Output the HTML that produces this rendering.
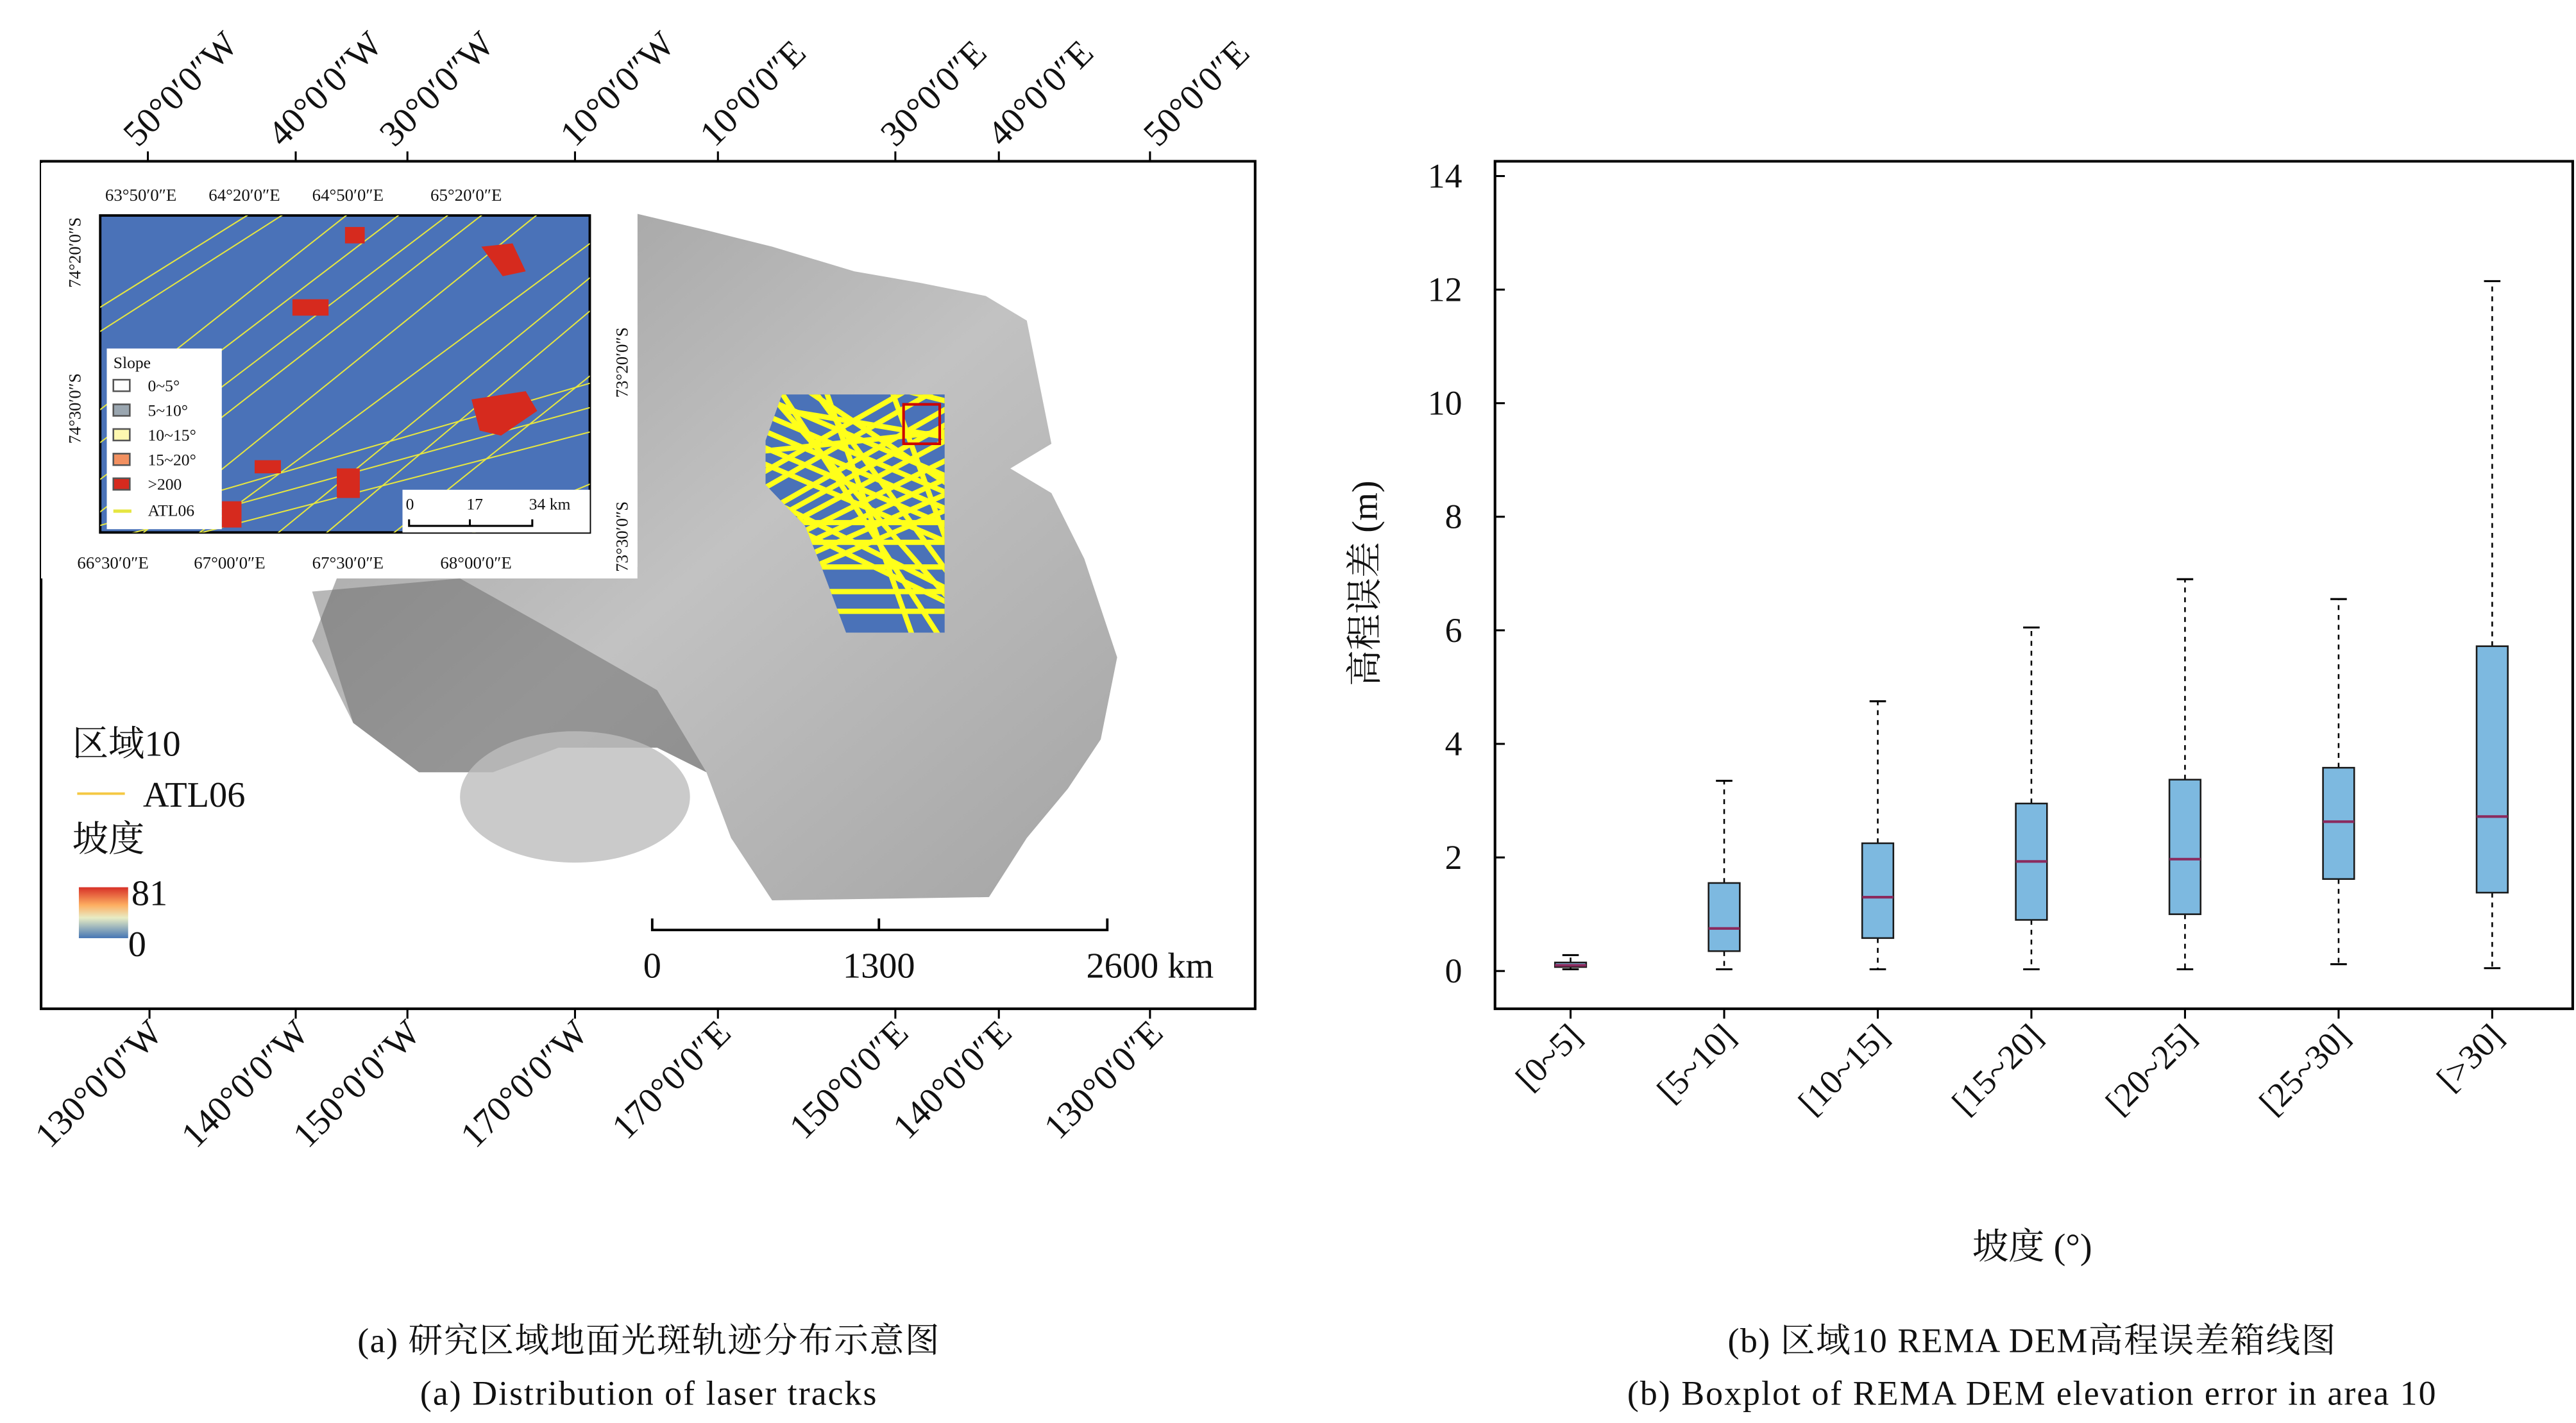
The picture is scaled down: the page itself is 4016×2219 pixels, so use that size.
<!DOCTYPE html>
<html><head><meta charset="utf-8"><style>
html,body{margin:0;padding:0;background:#fff}
svg{display:block}
text{font-family:"Liberation Serif","Noto Serif CJK SC",serif;fill:#111}
</style></head><body>
<svg width="4016" height="2219" viewBox="0 0 1568 866" xmlns="http://www.w3.org/2000/svg">
<defs>
<linearGradient id="cbar" x1="0" y1="0" x2="0" y2="1"><stop offset="0" stop-color="#d73027"/><stop offset="0.35" stop-color="#fdae61"/><stop offset="0.6" stop-color="#e8ecc4"/><stop offset="1" stop-color="#4575b4"/></linearGradient>
<linearGradient id="land" x1="0" y1="0" x2="1" y2="1"><stop offset="0" stop-color="#9a9a9a"/><stop offset="0.5" stop-color="#c2c2c2"/><stop offset="1" stop-color="#a4a4a4"/></linearGradient>
<clipPath id="insetclip"><rect x="61" y="131" width="298" height="193"/></clipPath>
<clipPath id="regclip"><polygon points="476,240 575,240 575,385 515,385 500,345 490,320 466,295 466,268"/></clipPath>
</defs>

<g>
<rect x="25" y="98" width="739" height="516" fill="#fff" stroke="#000" stroke-width="1.6"/>
<polygon fill="url(#land)" points="388,130 430,140 470,150 520,165 560,172 600,180 625,195 632,230 640,270 615,285 640,300 660,340 680,400 670,450 650,480 625,510 602,546 470,548 445,510 430,470 400,455 340,455 300,470 255,470 215,440 190,390 205,352 360,352 388,345"/>
<polygon fill="#5f5f5f" opacity="0.45" points="190,360 280,352 330,380 400,420 430,470 400,455 340,455 300,470 255,470 215,440"/>
<ellipse cx="350" cy="485" rx="70" ry="40" fill="#bdbdbd" opacity="0.8"/>
<polygon fill="#4a72b8" points="476,240 575,240 575,385 515,385 500,345 490,320 466,295 466,268"/>
<g clip-path="url(#regclip)" stroke="#ffff1a" stroke-width="3.2">
<line x1="460" y1="300" x2="600" y2="220"/><line x1="460" y1="315" x2="600" y2="235"/><line x1="460" y1="330" x2="600" y2="255"/>
<line x1="460" y1="345" x2="600" y2="280"/><line x1="460" y1="360" x2="600" y2="300"/><line x1="460" y1="280" x2="600" y2="340"/>
<line x1="460" y1="260" x2="600" y2="320"/><line x1="460" y1="300" x2="600" y2="370"/><line x1="460" y1="240" x2="600" y2="300"/>
<line x1="460" y1="230" x2="600" y2="390"/><line x1="470" y1="230" x2="580" y2="400"/><line x1="500" y1="230" x2="560" y2="400"/>
<line x1="480" y1="250" x2="600" y2="270"/><line x1="460" y1="360" x2="600" y2="360"/><line x1="480" y1="230" x2="600" y2="310"/>
<line x1="520" y1="230" x2="600" y2="250"/><line x1="470" y1="330" x2="600" y2="330"/><line x1="460" y1="275" x2="600" y2="260"/>
<line x1="460" y1="290" x2="600" y2="210"/><line x1="460" y1="322" x2="600" y2="245"/><line x1="460" y1="338" x2="600" y2="268"/>
<line x1="460" y1="352" x2="600" y2="290"/><line x1="460" y1="270" x2="600" y2="330"/><line x1="460" y1="310" x2="600" y2="378"/>
<line x1="460" y1="250" x2="600" y2="310"/><line x1="460" y1="345" x2="600" y2="345"/><line x1="460" y1="372" x2="600" y2="372"/>
<line x1="540" y1="230" x2="600" y2="395"/><line x1="490" y1="230" x2="600" y2="380"/><line x1="460" y1="318" x2="600" y2="318"/>
</g>
<rect x="550" y="246" width="22" height="24" fill="none" stroke="#c00" stroke-width="1.6"/>

<g>
<rect x="25" y="99" width="363" height="253" fill="#fff"/>
<rect x="61" y="131" width="298" height="193" fill="#4a72b8" stroke="#000" stroke-width="1.5"/>
<g clip-path="url(#insetclip)" stroke="#e6e640" stroke-width="0.8">
<line x1="40" y1="200" x2="200" y2="100"/><line x1="40" y1="215" x2="220" y2="100"/><line x1="50" y1="300" x2="300" y2="110"/>
<line x1="50" y1="320" x2="320" y2="110"/><line x1="80" y1="330" x2="340" y2="120"/><line x1="100" y1="340" x2="370" y2="140"/>
<line x1="150" y1="340" x2="370" y2="160"/><line x1="180" y1="340" x2="370" y2="180"/><line x1="220" y1="340" x2="370" y2="220"/>
<line x1="60" y1="320" x2="370" y2="230"/><line x1="60" y1="330" x2="370" y2="245"/><line x1="100" y1="330" x2="370" y2="260"/>
<line x1="250" y1="340" x2="370" y2="290"/><line x1="60" y1="250" x2="250" y2="100"/><line x1="60" y1="270" x2="270" y2="110"/>
</g>
<g fill="#d62a1e"><polygon points="287,243 320,238 327,250 305,265 292,262"/><polygon points="293,150 312,148 320,165 306,168"/><rect x="178" y="182" width="22" height="10"/><rect x="205" y="285" width="14" height="18"/><rect x="155" y="280" width="16" height="8"/><rect x="210" y="138" width="12" height="10"/><rect x="135" y="305" width="12" height="16"/></g>
<rect x="65" y="212" width="70" height="110" fill="#fff"/>
<text x="69" y="224" font-size="10">Slope</text>
<g font-size="10"><rect x="69" y="231" width="10" height="7" fill="#fff" stroke="#555"/><text x="90" y="238">0~5°</text>
<rect x="69" y="246" width="10" height="7" fill="#9aa6b0" stroke="#555"/><text x="90" y="253">5~10°</text>
<rect x="69" y="261" width="10" height="7" fill="#fdf7b0" stroke="#555"/><text x="90" y="268">10~15°</text>
<rect x="69" y="276" width="10" height="7" fill="#f29060" stroke="#555"/><text x="90" y="283">15~20°</text>
<rect x="69" y="291" width="10" height="7" fill="#d62a1e" stroke="#555"/><text x="90" y="298">&gt;200</text>
<line x1="69" y1="311" x2="80" y2="311" stroke="#e6e640" stroke-width="2"/><text x="90" y="314">ATL06</text></g>
<rect x="245" y="298" width="114" height="26" fill="#fff"/>
<g font-size="10"><text x="247" y="310">0</text><text x="284" y="310">17</text><text x="322" y="310">34 km</text></g>
<path d="M249,316V320H324V316M286,316V320" fill="none" stroke="#000" stroke-width="1.2"/>
<g font-size="10.5"><text x="64" y="122">63°50′0″E</text><text x="127" y="122">64°20′0″E</text><text x="190" y="122">64°50′0″E</text><text x="262" y="122">65°20′0″E</text>
<text x="47" y="346">66°30′0″E</text><text x="118" y="346">67°00′0″E</text><text x="190" y="346">67°30′0″E</text><text x="268" y="346">68°00′0″E</text></g>
<g font-size="10.5"><text transform="translate(49,175) rotate(-90)">74°20′0″S</text><text transform="translate(49,270) rotate(-90)">74°30′0″S</text>
<text transform="translate(382,242) rotate(-90)">73°20′0″S</text><text transform="translate(382,348) rotate(-90)">73°30′0″S</text></g>
</g>

<g>
<text x="44" y="460" font-size="22">区域10</text>
<line x1="47" y1="483" x2="76" y2="483" stroke="#f5c842" stroke-width="1.5"/>
<text x="87" y="491" font-size="22">ATL06</text>
<text x="44" y="518" font-size="22">坡度</text>
<rect x="48" y="540" width="30" height="31" fill="url(#cbar)"/>
<text x="80" y="551" font-size="22">81</text><text x="78" y="582" font-size="22">0</text>
</g>
<g>
<path d="M397,559V566H674V559M535,559V566" fill="none" stroke="#000" stroke-width="1.5"/>
<text x="397" y="595" font-size="22" text-anchor="middle">0</text><text x="535" y="595" font-size="22" text-anchor="middle">1300</text><text x="700" y="595" font-size="22" text-anchor="middle">2600 km</text>
</g>
<g stroke="#000" stroke-width="1.2">
<path d="M90,98v-6M180,98v-6M248,98v-6M350,98v-6M437,98v-6M545,98v-6M608,98v-6M700,98v-6"/>
<path d="M91,614v6M180,614v6M248,614v6M350,614v6M437,614v6M545,614v6M608,614v6M700,614v6"/>
</g>
<g font-size="22">
<text transform="translate(84,90) rotate(-45)">50°0′0″W</text><text transform="translate(172,90) rotate(-45)">40°0′0″W</text>
<text transform="translate(240,90) rotate(-45)">30°0′0″W</text><text transform="translate(350,90) rotate(-45)">10°0′0″W</text>
<text transform="translate(435,90) rotate(-45)">10°0′0″E</text><text transform="translate(545,90) rotate(-45)">30°0′0″E</text>
<text transform="translate(610,90) rotate(-45)">40°0′0″E</text><text transform="translate(705,90) rotate(-45)">50°0′0″E</text>
</g>
<g font-size="22" text-anchor="end">
<text transform="translate(100,630) rotate(-45)">130°0′0″W</text><text transform="translate(189,630) rotate(-45)">140°0′0″W</text>
<text transform="translate(257,630) rotate(-45)">150°0′0″W</text><text transform="translate(359,630) rotate(-45)">170°0′0″W</text>
<text transform="translate(446,630) rotate(-45)">170°0′0″E</text><text transform="translate(554,630) rotate(-45)">150°0′0″E</text>
<text transform="translate(617,630) rotate(-45)">140°0′0″E</text><text transform="translate(709,630) rotate(-45)">130°0′0″E</text>
</g>
</g>
<text x="395" y="823" font-size="21" letter-spacing="0.6" text-anchor="middle">(a) 研究区域地面光斑轨迹分布示意图</text>
<text x="395" y="855" font-size="21" letter-spacing="0.8" text-anchor="middle">(a) Distribution of laser tracks</text>

<g id="chart">
<rect x="910" y="98" width="656" height="516" fill="none" stroke="#000" stroke-width="1.6"/>
</g>
<text transform="translate(838,355) rotate(-90)" font-size="22" text-anchor="middle">高程误差 (m)</text>
<text x="1237" y="766" font-size="22" text-anchor="middle">坡度 (°)</text>
<text x="1237" y="823" font-size="21" letter-spacing="0.6" text-anchor="middle">(b) 区域10 REMA DEM高程误差箱线图</text>
<text x="1237" y="855" font-size="21" letter-spacing="0.8" text-anchor="middle">(b) Boxplot of REMA DEM elevation error in area 10</text>
</svg>
<script>
const categories = ["[0~5]","[5~10]","[10~15]","[15~20]","[20~25]","[25~30]","[>30]"];
const whiskerLow = [0.03,0.03,0.03,0.03,0.03,0.12,0.05];
const q1 = [0.07,0.35,0.58,0.9,1.0,1.62,1.38];
const median = [0.1,0.75,1.3,1.93,1.97,2.63,2.72];
const q3 = [0.15,1.55,2.25,2.95,3.37,3.58,5.72];
const whiskerHigh = [0.28,3.35,4.75,6.05,6.9,6.55,12.15];
const yTicks = [0,2,4,6,8,10,12,14];

const NS = "http://www.w3.org/2000/svg";
const chart = document.getElementById("chart");
const y = v => 591 - v * (591 - 107) / 14;
const x = i => 956 + i * (1517 - 956) / (categories.length - 1);
function mk(tag, attrs, parent) {
  const e = document.createElementNS(NS, tag);
  for (const k in attrs) e.setAttribute(k, attrs[k]);
  (parent || chart).appendChild(e);
  return e;
}
yTicks.forEach(t => {
  const l = mk("line", {x1: 910, x2: 916, y1: y(t), y2: y(t), stroke: "#000", "stroke-width": 1.2});
  
  
  const tx = mk("text", {x: 890, y: y(t) + 7, "font-size": 21, "text-anchor": "end"});
  tx.textContent = t;
  
  
});
const hw = 9.5;
categories.forEach((c, i) => {
  const cx = x(i);
  const tk = mk("line", {x1: cx, x2: cx, y1: 614, y2: 620, stroke: "#000", "stroke-width": 1.2});
  
  
  const lb = mk("text", {transform: `translate(${cx + 8},632) rotate(-45)`, "font-size": 21, "text-anchor": "end"});
  lb.textContent = c;
  
  
  const g = mk("g", {});
  
  
  mk("line", {x1: cx, x2: cx, y1: y(q3[i]), y2: y(whiskerHigh[i]), stroke: "#000", "stroke-width": 1, "stroke-dasharray": "3,3"}, g);
  mk("line", {x1: cx, x2: cx, y1: y(q1[i]), y2: y(whiskerLow[i]), stroke: "#000", "stroke-width": 1, "stroke-dasharray": "3,3"}, g);
  mk("line", {x1: cx - 5, x2: cx + 5, y1: y(whiskerHigh[i]), y2: y(whiskerHigh[i]), stroke: "#000", "stroke-width": 1.2}, g);
  mk("line", {x1: cx - 5, x2: cx + 5, y1: y(whiskerLow[i]), y2: y(whiskerLow[i]), stroke: "#000", "stroke-width": 1.2}, g);
  mk("rect", {x: cx - hw, y: y(q3[i]), width: 2 * hw, height: Math.max(1, y(q1[i]) - y(q3[i])), fill: "#7db9e0", stroke: "#1a1a1a", "stroke-width": 1}, g);
  mk("line", {x1: cx - hw, x2: cx + hw, y1: y(median[i]), y2: y(median[i]), stroke: "#8b2a5e", "stroke-width": 1.6}, g);
});
</script>
</body></html>
